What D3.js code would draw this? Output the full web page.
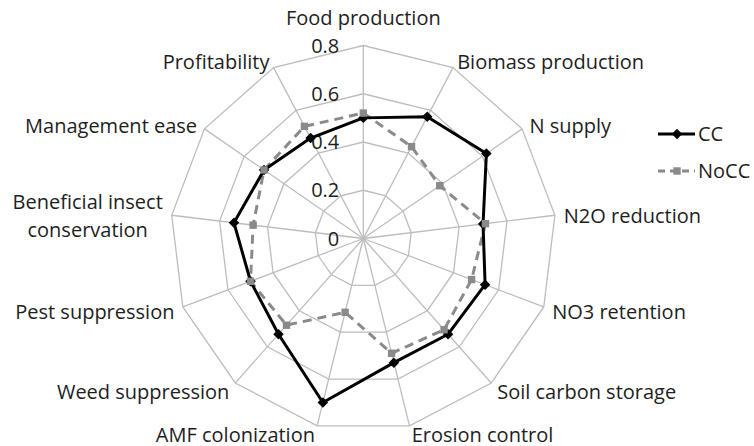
<!DOCTYPE html>
<html>
<head>
<meta charset="utf-8">
<script src="https://cdn.jsdelivr.net/npm/d3@7"></script>
<style>
  html, body { margin: 0; padding: 0; background: #fff; }
  svg { display: block; font-family: "Open Sans", "Noto Sans", sans-serif; }
</style>
</head>
<body>
<svg id="chart" width="754" height="446"></svg>
<script>
// Ecosystem services scored for cover-cropped (CC) and non-cover-cropped (NoCC) systems
const categories = [
  "Food production", "Biomass production", "N supply", "N2O reduction",
  "NO3 retention", "Soil carbon storage", "Erosion control", "AMF colonization",
  "Weed suppression", "Pest suppression", "Beneficial insect conservation",
  "Management ease", "Profitability"
];
const ccValues   = [0.50, 0.57, 0.62, 0.50, 0.54, 0.53, 0.53, 0.70, 0.53, 0.50, 0.54, 0.50, 0.47];
const noccValues = [0.52, 0.43, 0.385, 0.51, 0.48, 0.505, 0.49, 0.315, 0.48, 0.50, 0.46, 0.50, 0.525];
const seriesNames = ["CC", "NoCC"];
const tickValues = [0, 0.2, 0.4, 0.6, 0.8];

const svg = d3.select("#chart");
const cx = 363.3, cy = 238.5, R = 193;
const fontSize = 20;
const textColor = "#1e1e1e";

const r = d3.scaleLinear().domain([0, 0.8]).range([0, R]);
const angle = d3.scaleLinear().domain([0, categories.length]).range([0, 2 * Math.PI]);

const g = svg.append("g").attr("transform", `translate(${cx},${cy})`);

const pt = (i, v) => [Math.sin(angle(i)) * r(v), -Math.cos(angle(i)) * r(v)];

// Polygonal grid rings
const ringLine = d3.line().curve(d3.curveLinearClosed);
g.selectAll("path.ring")
  .data(tickValues.filter(t => t > 0))
  .join("path")
  .attr("class", "ring")
  .attr("d", t => ringLine(categories.map((_, i) => pt(i, t))))
  .attr("fill", "none")
  .attr("stroke", "#bdbdbd")
  .attr("stroke-width", 1.3);

// Spokes
g.selectAll("line.spoke")
  .data(categories)
  .join("line")
  .attr("class", "spoke")
  .attr("x1", 0).attr("y1", 0)
  .attr("x2", (_, i) => pt(i, 0.8)[0])
  .attr("y2", (_, i) => pt(i, 0.8)[1])
  .attr("stroke", "#bdbdbd")
  .attr("stroke-width", 1.3);

// Radial tick labels
g.selectAll("text.tick")
  .data(tickValues)
  .join("text")
  .attr("class", "tick")
  .attr("x", -24)
  .attr("y", t => -r(t))
  .attr("dy", "0.36em")
  .attr("text-anchor", "end")
  .attr("font-size", fontSize)
  .attr("fill", textColor)
  .text(t => t === 0 ? "0" : d3.format(".1f")(t));

// Category labels (long names break onto two centred lines)
const wrap = s => {
  if (s.length <= 25) return [s];
  const mid = s.lastIndexOf(" ", Math.ceil(s.length / 2) + 2);
  return [s.slice(0, mid), s.slice(mid + 1)];
};
const labelGap = 9;
categories.forEach((name, i) => {
  const a = angle(i);
  const s = Math.sin(a), c = Math.cos(a);
  const ax = s * (R + labelGap);
  const ay = -c * (R + labelGap);
  const lines = wrap(name);
  const lh = fontSize * 1.4;
  const t = g.append("text")
    .attr("font-size", fontSize)
    .attr("fill", textColor)
    .attr("text-anchor", "middle");
  const spans = lines.map((ln, k) => t.append("tspan").attr("x", 0).attr("y", k * lh).text(ln));
  const w = d3.max(spans, sp => sp.node().getComputedTextLength());
  let centerX;
  if (Math.abs(s) < 0.05) centerX = ax;
  else if (s > 0) centerX = ax + w / 2;
  else centerX = ax - w / 2;
  let centerY = ay + 2;
  if (Math.abs(s) < 0.05) centerY = ay - c * (fontSize * 0.95);
  if (c < -0.9) centerY -= 2;
  const top = centerY - (lines.length - 1) * lh / 2;
  spans.forEach((sp, k) => {
    sp.attr("x", centerX).attr("y", top + k * lh).attr("dy", "0.35em");
  });
});

// Series
const seriesLine = d3.line().curve(d3.curveLinearClosed);
const series = [
  { name: seriesNames[0], values: ccValues, color: "#000", dash: null, marker: "diamond", width: 3 },
  { name: seriesNames[1], values: noccValues, color: "#8a8a8a", dash: "9,6", marker: "square", width: 3 }
];

const markerPath = {
  diamond: d3.symbol().type(d3.symbolDiamond2).size(70)(),
  square: d3.symbol().type(d3.symbolSquare2).size(70)()
};

// NoCC line underneath, CC line on top
series.slice().reverse().forEach(sr => {
  g.append("path")
    .attr("d", seriesLine(sr.values.map((v, i) => pt(i, v))))
    .attr("fill", "none")
    .attr("stroke", sr.color)
    .attr("stroke-width", sr.width)
    .attr("stroke-dasharray", sr.dash)
    .attr("stroke-linejoin", "round");
});
series.forEach(sr => {
  g.selectAll(null)
    .data(sr.values)
    .join("path")
    .attr("transform", (v, i) => `translate(${pt(i, v)[0]},${pt(i, v)[1]})`)
    .attr("d", markerPath[sr.marker])
    .attr("fill", sr.color);
});

// Legend
const legend = svg.append("g").attr("transform", "translate(658,0)");
const legendY = [134, 171];
series.forEach((sr, k) => {
  const row = legend.append("g").attr("transform", `translate(0,${legendY[k]})`);
  row.append("line")
    .attr("x1", 0).attr("x2", 37).attr("y1", 0).attr("y2", 0)
    .attr("stroke", sr.color)
    .attr("stroke-width", sr.width)
    .attr("stroke-dasharray", sr.dash ? "7,5" : null);
  row.append("path")
    .attr("transform", "translate(19,0)")
    .attr("d", markerPath[sr.marker])
    .attr("fill", sr.color);
  row.append("text")
    .attr("x", 40)
    .attr("y", 0)
    .attr("dy", "0.35em")
    .attr("font-size", fontSize)
    .attr("fill", textColor)
    .text(sr.name);
});
</script>
</body>
</html>
